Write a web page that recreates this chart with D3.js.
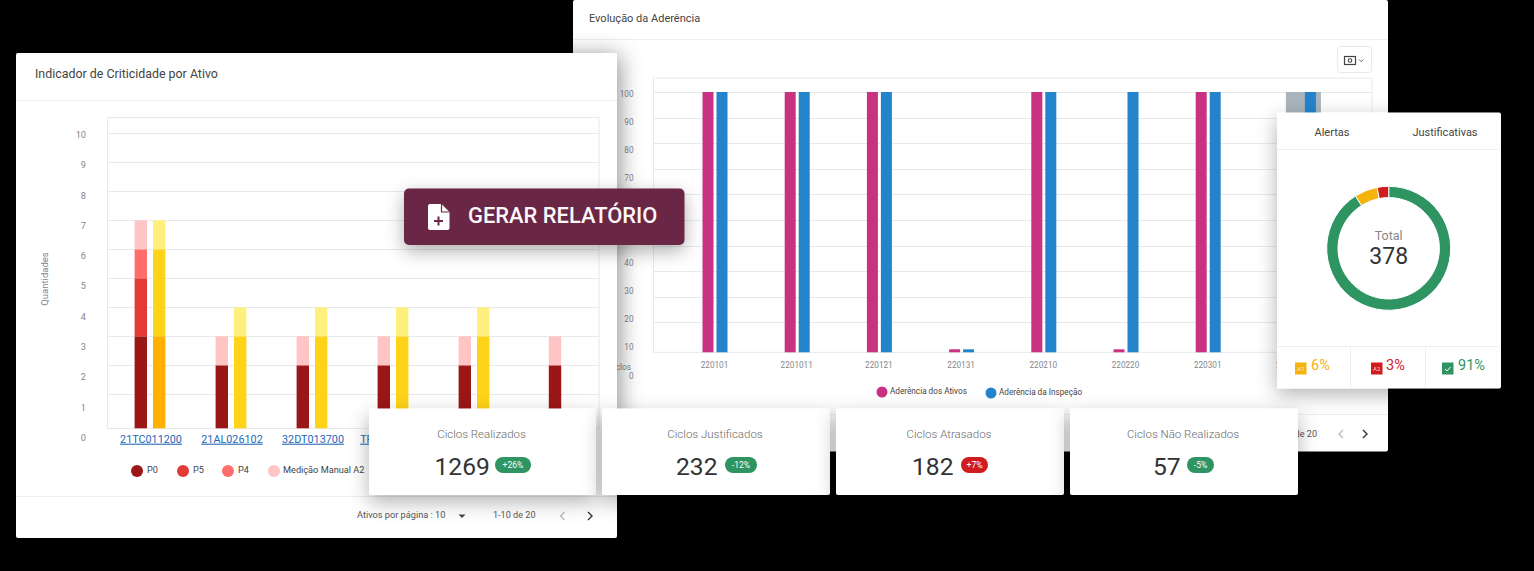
<!DOCTYPE html>
<html lang="pt">
<head>
<meta charset="utf-8">
<title>Painel de Ciclos</title>
<script src="https://cdn.jsdelivr.net/npm/d3@7"></script>
<style>
  html, body { margin: 0; padding: 0; background: #000; overflow: hidden; }
  svg { display: block; font-family: Roboto, sans-serif; }
</style>
</head>
<body>
<script>
// Criticality chart
const assetLabels = ["21TC011200", "21AL026102", "32DT013700", "TR011012001", "32AL014100", "21TC019300"];
const criticalityTicks = [0, 1, 2, 3, 4, 5, 6, 7, 8, 9, 10];
const redSeriesNames = ["P0", "P5", "P4", "Medição Manual A2"];
const p0Values = [3, 2, 2, 2, 2, 2];
const p5Values = [2, 0, 0, 0, 0, 0];
const p4Values = [1, 0, 0, 0, 0, 0];
const manualA2Values = [1, 1, 1, 1, 1, 1];
const redColors = ["#9b1616", "#e43a36", "#ff6e6b", "#ffc4c4"];
const a1DarkValues = [3, 0, 0, 0, 0, 0];
const a1MidValues = [3, 3, 3, 3, 3, 0];
const a1LightValues = [1, 1, 1, 1, 1, 0];
const yellowColors = ["#ffb000", "#ffd318", "#fff07e"];

// Adherence chart
const cycleLabels = ["220101", "2201011", "220121", "220131", "220210", "220220", "220301", "220311"];
const adherenceTicks = [0, 10, 20, 30, 40, 50, 60, 70, 80, 90, 100];
const assetAdherence = [100, 100, 100, 1, 100, 1, 100, 0];
const inspectionAdherence = [100, 100, 100, 1, 100, 100, 100, 100];
const adherenceNames = ["Aderência dos Ativos", "Aderência da Inspeção"];

// Summary cards
const kpiTitles = ["Ciclos Realizados", "Ciclos Justificados", "Ciclos Atrasados", "Ciclos Não Realizados"];
const kpiValues = [1269, 232, 182, 57];
const kpiBadges = ["+26%", "-12%", "+7%", "-5%"];
const kpiBadIsRed = [false, false, true, false];

// Alerts donut
const alertNames = ["OK", "A1", "A2"];
const alertShares = [91, 6, 3];
const alertTotal = 378;

const GREEN = "#2e9462", RED = "#d01c1f", AMBER = "#f4b30d";
const GRID = "#e7e9ed", TICK = "#83878e";

const svg = d3.select("body").append("svg").attr("width", 1534).attr("height", 571);
svg.append("rect").attr("width", 1534).attr("height", 571).attr("fill", "#000");

const defs = svg.append("defs");
function shadow(id, dx, dy, blur, opacity) {
  defs.append("filter").attr("id", id)
    .attr("x", "-20%").attr("y", "-30%").attr("width", "140%").attr("height", "170%")
    .append("feDropShadow").attr("dx", dx).attr("dy", dy)
    .attr("stdDeviation", blur).attr("flood-color", "#000").attr("flood-opacity", opacity);
}
shadow("cardShadow", 3, 2, 11, 0.42);
shadow("alertShadow", 0, 6, 10, 0.3);
shadow("kpiShadow", 0, 7, 10, 0.3);
shadow("buttonShadow", 0, 6, 9, 0.32);

function card(parent, x, y, w, h, filter, r = 2) {
  return parent.append("rect").attr("x", x).attr("y", y).attr("width", w).attr("height", h)
    .attr("rx", r).attr("fill", "#fff").attr("filter", filter ? `url(#${filter})` : null);
}
function hLine(g, x1, x2, y, c = "#eceef0") {
  g.append("line").attr("x1", x1).attr("x2", x2).attr("y1", y).attr("y2", y).attr("stroke", c);
}
function text(g, x, y, s, size, fill, anchor = "start", weight = 400) {
  return g.append("text").attr("x", x).attr("y", y).attr("dy", "0.35em")
    .attr("text-anchor", anchor).attr("font-size", size).attr("font-weight", weight)
    .attr("fill", fill).text(s);
}
function chevron(g, cx, cy, dir, color) {
  g.append("path").attr("d", `M${cx - 2 * dir},${cy - 4}L${cx + 2 * dir},${cy}L${cx - 2 * dir},${cy + 4}`)
    .attr("fill", "none").attr("stroke", color).attr("stroke-width", 1.4);
}
function cleanAxis(sel) {
  sel.select(".domain").remove();
  sel.selectAll(".tick line").remove();
}

/* ---------- Evolução da Aderência ---------- */
const rightCard = svg.append("g");
card(rightCard, 573, 0, 815, 451.5);
text(rightCard, 589, 18, "Evolução da Aderência", 11, "#444");
hLine(rightCard, 573, 1388, 39.5);

// export button
const cam = rightCard.append("g");
cam.append("rect").attr("x", 1337.5).attr("y", 46.5).attr("width", 34).attr("height", 26)
  .attr("rx", 3).attr("fill", "#fff").attr("stroke", "#e9e9e9");
cam.append("rect").attr("x", 1344.5).attr("y", 56.5).attr("width", 11).attr("height", 8)
  .attr("fill", "none").attr("stroke", "#444").attr("stroke-width", 1.2);
cam.append("circle").attr("cx", 1350).attr("cy", 60.5).attr("r", 1.8)
  .attr("fill", "none").attr("stroke", "#444").attr("stroke-width", 1.1);
cam.append("path").attr("d", "M1359,59.5l2.2,2.2l2.2,-2.2").attr("fill", "none").attr("stroke", "#666");

// the axis floor sits a little below the evenly spaced rows
const adherenceY = d3.scaleLinear().domain([0, 10, 100]).range([352.3, 322.4, 92]);
const adherenceLabelY = d3.scaleLinear().domain([0, 100]).range([375.5, 93.5]);
const cycleX = d3.scaleBand().domain(cycleLabels).range([673.9, 1331.5]);

rightCard.append("rect").attr("x", 653.5).attr("y", 78).attr("width", 718.5).attr("height", 274.3)
  .attr("fill", "none").attr("stroke", GRID);
adherenceTicks.filter(t => t > 0).forEach(t => hLine(rightCard, 653.5, 1372, Math.round(adherenceY(t)) + 0.5, GRID));

rightCard.append("g").attr("transform", "translate(633.5,0)")
  .call(d3.axisLeft(adherenceLabelY).tickValues(adherenceTicks).tickSize(0).tickPadding(0))
  .call(cleanAxis)
  .call(g => g.selectAll("text").attr("font-size", 8.2).attr("font-family", "Roboto").attr("fill", TICK));
text(rightCard, 631, 367, "Ciclos", 8.2, TICK, "end");

rightCard.append("g").attr("transform", "translate(-0.5,362)")
  .call(d3.axisBottom(cycleX).tickSize(0).tickPadding(0))
  .call(cleanAxis)
  .call(g => g.selectAll("text").attr("font-size", 8.2).attr("font-family", "Roboto").attr("fill", TICK));

const adhBarW = 11, adhGap = 3, hoverShift = 20;
const hovered = cycleLabels[cycleLabels.length - 1];
const hoverCx = cycleX(hovered) + cycleX.bandwidth() / 2 + hoverShift;
rightCard.append("rect").attr("x", hoverCx - 24.5).attr("y", adherenceY(100))
  .attr("width", 35).attr("height", adherenceY(0) - adherenceY(100)).attr("fill", "#a9b4bc");

[assetAdherence, inspectionAdherence].forEach((vals, s) => {
  rightCard.append("g").selectAll("rect")
    .data(cycleLabels.map((c, i) => ({ c, v: vals[i] })).filter(d => d.v > 0))
    .join("rect")
    .attr("x", d => {
      const cx = cycleX(d.c) + cycleX.bandwidth() / 2;
      if (d.c === hovered) return cx + hoverShift - adhBarW / 2;
      return s === 0 ? cx - adhGap / 2 - adhBarW : cx + adhGap / 2;
    })
    .attr("width", adhBarW)
    .attr("y", d => adherenceY(d.v))
    .attr("height", d => adherenceY(0) - adherenceY(d.v))
    .attr("fill", ["#c93280", "#2383cb"][s]);
});

[[882, 392, 890], [991, 393, 999]].forEach(([cx, cy, tx], i) => {
  rightCard.append("circle").attr("cx", cx).attr("cy", cy).attr("r", 5.5).attr("fill", ["#c93280", "#2383cb"][i]);
  text(rightCard, tx, cy - 0.5, adherenceNames[i], 8.2, "#444");
});
hLine(rightCard, 573, 1388, 414.5);
text(rightCard, 1317, 434, "1-10 de 20", 9.1, "#555", "end");
chevron(rightCard, 1341, 434, -1, "#bbb");
chevron(rightCard, 1365, 434, 1, "#333");

/* ---------- Indicador de Criticidade por Ativo ---------- */
const leftCard = svg.append("g");
card(leftCard, 16, 53, 601, 485, "cardShadow");
text(leftCard, 35, 74, "Indicador de Criticidade por Ativo", 12.4, "#444");
hLine(leftCard, 16, 617, 100.5);

const critY = d3.scaleLinear().domain([0, 1, 10]).range([428.3, 394.3, 133.3]);
const critLabelY = d3.scaleLinear().domain([0, 10]).range([437.5, 134.5]);
const assetX = d3.scaleBand().domain(assetLabels).range([109.5, 595.5]);

leftCard.append("rect").attr("x", 107.5).attr("y", 117.5).attr("width", 491.5).attr("height", 311)
  .attr("fill", "none").attr("stroke", GRID);
criticalityTicks.filter(t => t > 0).forEach(t => hLine(leftCard, 107.5, 599, Math.round(critY(t)) + 0.5, GRID));

leftCard.append("g").attr("transform", "translate(86,0)")
  .call(d3.axisLeft(critLabelY).tickValues(criticalityTicks).tickSize(0).tickPadding(0))
  .call(cleanAxis)
  .call(g => g.selectAll("text").attr("font-size", 9.2).attr("font-family", "Roboto").attr("fill", TICK));
leftCard.append("text").attr("transform", "translate(45,279) rotate(-90)")
  .attr("text-anchor", "middle").attr("dy", "0.35em")
  .attr("font-size", 9.5).attr("fill", TICK).text("Quantidades");

leftCard.append("g").attr("transform", "translate(1,435)")
  .call(d3.axisBottom(assetX).tickSize(0).tickPadding(0))
  .call(cleanAxis)
  .call(g => g.selectAll("text").attr("font-size", 10.8).attr("font-family", "Roboto")
    .attr("fill", "#2368b8").attr("text-decoration", "underline"));

const critBarW = 12.4, critGap = 6;
const redRows = assetLabels.map((a, i) => ({ a, P0: p0Values[i], P5: p5Values[i], P4: p4Values[i], M: manualA2Values[i] }));
const yellowRows = assetLabels.map((a, i) => ({ a, D: a1DarkValues[i], T: a1MidValues[i], L: a1LightValues[i] }));
const hasYellow = a => yellowRows.find(r => r.a === a).T + yellowRows.find(r => r.a === a).D > 0;

function drawStack(rows, keys, colors, xOf) {
  d3.stack().keys(keys)(rows).forEach((layer, k) => {
    leftCard.append("g").selectAll("rect")
      .data(layer.filter(d => d[1] > d[0]))
      .join("rect")
      .attr("x", d => xOf(d.data.a))
      .attr("width", critBarW)
      .attr("y", d => critY(d[1]))
      .attr("height", d => critY(d[0]) - critY(d[1]))
      .attr("fill", colors[k]);
  });
}
const centre = a => assetX(a) + assetX.bandwidth() / 2;
drawStack(redRows, ["P0", "P5", "P4", "M"], redColors,
  a => hasYellow(a) ? centre(a) - critGap / 2 - critBarW : centre(a) - critBarW / 2);
drawStack(yellowRows.filter(r => hasYellow(r.a)), ["D", "T", "L"], yellowColors,
  a => centre(a) + critGap / 2);

[[137, 147], [183, 193], [228, 238], [274, 283]].forEach(([cx, tx], i) => {
  leftCard.append("circle").attr("cx", cx).attr("cy", 471).attr("r", 6).attr("fill", redColors[i]);
  text(leftCard, tx, 470, redSeriesNames[i], 9.2, "#444");
});

hLine(leftCard, 16, 617, 496.5);
text(leftCard, 357, 515, "Ativos por página : 10", 9.2, "#555");
leftCard.append("path").attr("d", "M458.5,514.5h7l-3.5,3.5z").attr("fill", "#444");
text(leftCard, 493, 515, "1-10 de 20", 9.1, "#555");
chevron(leftCard, 562.5, 516, -1, "#bbb");
chevron(leftCard, 590, 516, 1, "#333");

/* ---------- Alertas ---------- */
const alertCard = svg.append("g");
card(alertCard, 1277, 112.5, 224, 276, "alertShadow");
text(alertCard, 1332, 132, "Alertas", 11, "#444", "middle");
text(alertCard, 1445, 132, "Justificativas", 11, "#444", "middle");
hLine(alertCard, 1277, 1498, 149.5);
hLine(alertCard, 1277, 1498, 346.5);
[1350.5, 1425.5].forEach(x => alertCard.append("line").attr("x1", x).attr("x2", x)
  .attr("y1", 347).attr("y2", 388).attr("stroke", "#eceef0"));

const donut = alertCard.append("g").attr("transform", "translate(1388.7,248.3)");
const arcs = d3.pie().sort(null)(alertShares);
donut.selectAll("path").data(arcs).join("path")
  .attr("d", d3.arc().innerRadius(50.7).outerRadius(62))
  .attr("fill", (d, i) => [GREEN, AMBER, RED][i])
  .attr("stroke", "#fff").attr("stroke-width", 1);
text(donut, 0, -12.5, "Total", 12.5, "#888", "middle");
text(donut, 0, 8, alertTotal, 23, "#333", "middle");

[[1295, 1311, AMBER], [1371, 1386, RED], [1442, 1458, GREEN]].forEach(([ix, tx, c], i) => {
  alertCard.append("rect").attr("x", ix).attr("y", 362.5).attr("width", 11.5).attr("height", 12).attr("fill", c);
  if (i < 2) text(alertCard, ix + 5.75, 368.5, alertNames[i + 1], 6, "#fff", "middle").attr("opacity", 0.8);
  else alertCard.append("path").attr("d", `M${ix + 3},369l2,2l3.5,-4`).attr("fill", "none").attr("stroke", "#fff");
  const share = [alertShares[1], alertShares[2], alertShares[0]][i];
  text(alertCard, tx, 365, share + "%", 14.5, c);
});

/* ---------- Summary cards ---------- */
const kpiX = [369, 602, 836, 1070];
const kpiW = [227, 228, 228, 228];
const kpiNumX = [434.5, 676, 912, 1153];
const kpiBadgeX = [[495, 36], [725, 32], [961, 27], [1187, 27]];
kpiTitles.forEach((t, i) => {
  const g = svg.append("g");
  card(g, kpiX[i], 408.5, kpiW[i], 86.5, "kpiShadow");
  text(g, kpiX[i] + kpiW[i] / 2 - 1, 433.5, t, 11.5, "#6a6a6a", "middle", 300);
  text(g, kpiNumX[i], 466.5, kpiValues[i], 24.6, "#333");
  g.append("rect").attr("x", kpiBadgeX[i][0]).attr("y", 457).attr("width", kpiBadgeX[i][1])
    .attr("height", 16).attr("rx", 8).attr("fill", kpiBadIsRed[i] ? RED : GREEN);
  text(g, kpiBadgeX[i][0] + kpiBadgeX[i][1] / 2, 464.5, kpiBadges[i], 8.6, "#fff", "middle");
});

/* ---------- Report button ---------- */
const btn = svg.append("g");
btn.append("rect").attr("x", 404).attr("y", 188.5).attr("width", 280.5).attr("height", 56.5)
  .attr("rx", 5).attr("fill", "#6b2745").attr("filter", "url(#buttonShadow)");
btn.append("path")
  .attr("d", "M430,204h11.5l8,8v16a2,2 0 0 1 -2,2h-17.5a2,2 0 0 1 -2,-2v-22a2,2 0 0 1 2,-2z")
  .attr("fill", "#fff");
btn.append("path").attr("d", "M441.5,204v8h8").attr("fill", "none").attr("stroke", "#6b2745").attr("stroke-width", 1.2);
btn.append("path").attr("d", "M438.5,216.5v9M434,221h9").attr("fill", "none").attr("stroke", "#6b2745").attr("stroke-width", 2);
text(btn, 468, 215.5, "GERAR RELATÓRIO", 21.9, "#fbf6f8", "start", 500);
</script>
</body>
</html>
